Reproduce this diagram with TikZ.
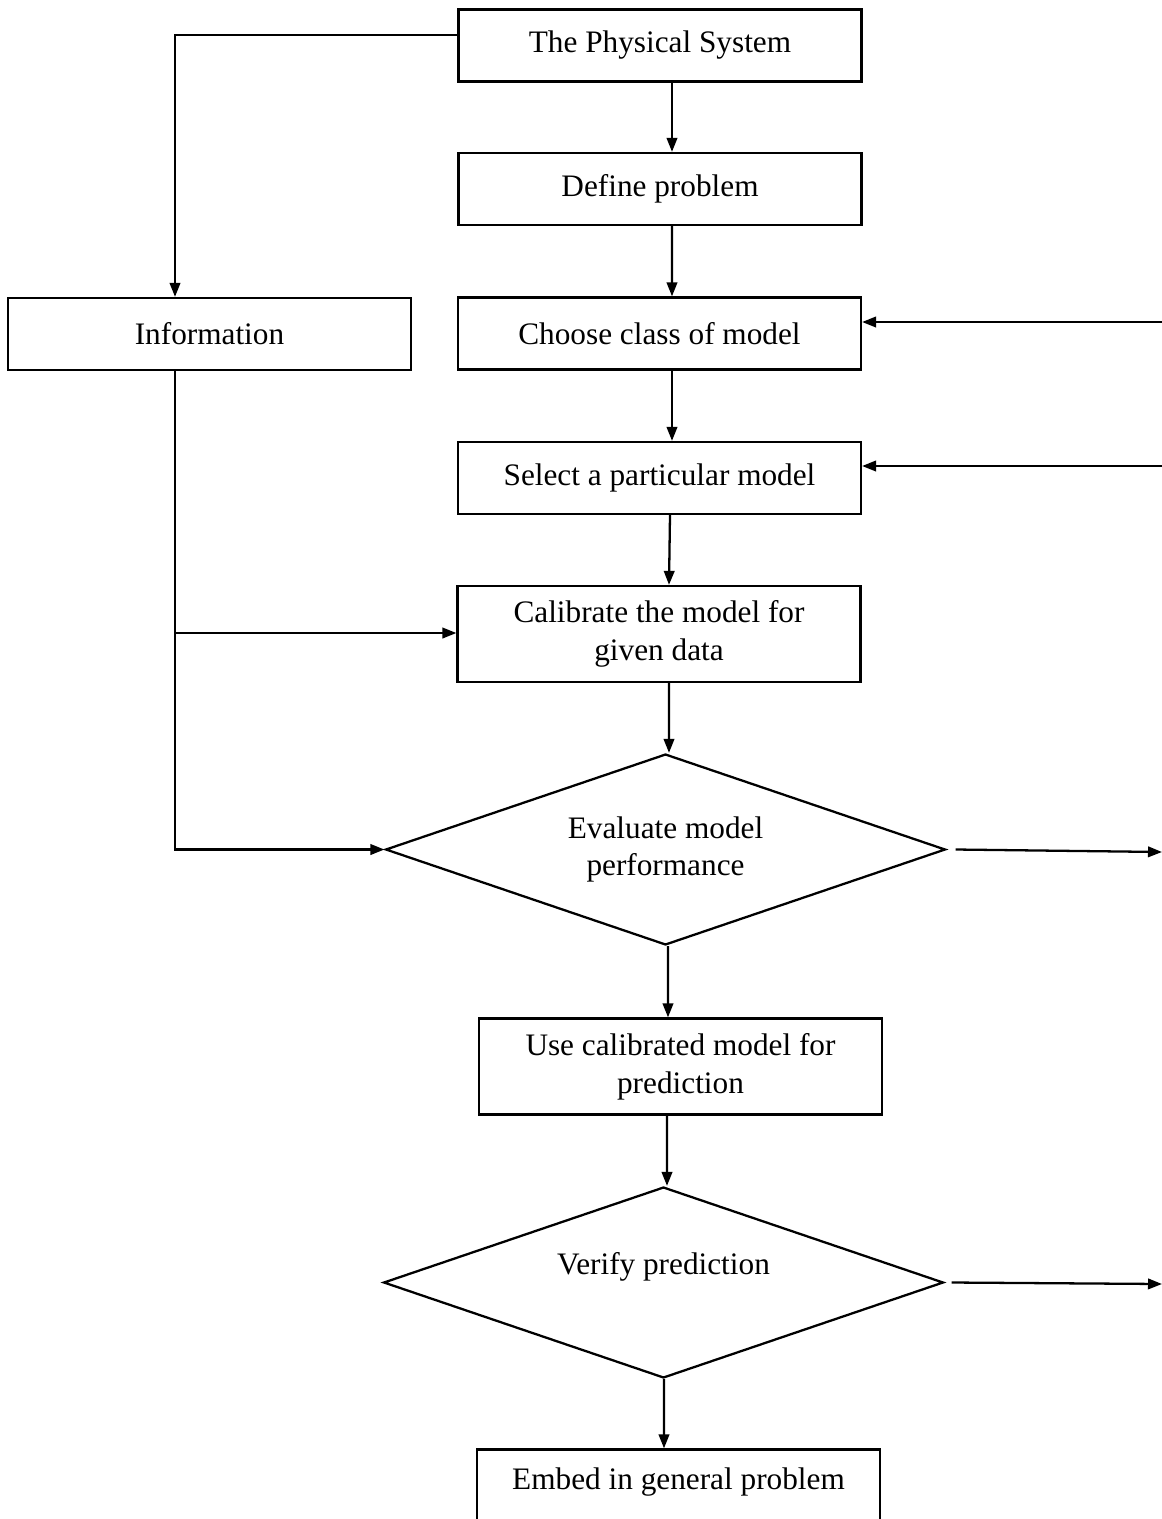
\documentclass[tikz,border=0pt]{standalone}
\usepackage{fontspec}
\setmainfont{Liberation Serif}
\usepackage{tikz}
\usetikzlibrary{arrows.meta,shapes.geometric}

\begin{document}
\begin{tikzpicture}[
    x=0.02cm, y=-0.02cm,
    box/.style={
        draw,
        line width=1.3pt,
        minimum width=8.06cm,
        minimum height=1.44cm,
        align=center,
        font=\fontsize{17.8}{21.5}\selectfont
    },
    tallbox/.style={
        box,
        minimum height=1.92cm
    },
    decision/.style={
        draw,
        shape=diamond,
        shape aspect=2.93,
        line width=1.3pt,
        minimum width=11.2cm,
        minimum height=3.82cm,
        inner sep=0pt,
        align=center,
        font=\fontsize{17.8}{21.5}\selectfont
    },
    every path/.style={
        line width=1.3pt
    },
    flow/.style={
        -{Triangle[length=0.28cm,width=0.21cm]}
    }
]
\useasboundingbox (0,0) rectangle (1162,1519);

\node[box] (phys) at (660,45.5) {The Physical System};
\node[box] (define) at (660,189) {Define problem};
\node[box] (info) at (209.5,334) {Information};
\node[box] (choose) at (659.5,333.5) {Choose class of model};
\node[box] (select) at (659.5,478) {Select a particular model};
\node[tallbox] (calib) at (659,634) {Calibrate the model for\\given data};
\node[decision] (eval) at (665.5,849.5) {Evaluate model\\performance};
\node[tallbox] (use) at (680.5,1066.5) {Use calibrated model for\\prediction};
\node[decision] (verify) at (663.5,1282.5) {Verify prediction\\\mbox{}};
\node[tallbox] (embed) at (678.5,1497.5) {Embed in general problem\\\mbox{}};

% loose ends on the right
\coordinate (back1) at (1162,322);
\coordinate (back2) at (1162,466);
\coordinate (out1) at (1162,852);
\coordinate (out2) at (1162,1284);
\coordinate (split) at (175,633);

% main column
\draw[flow] ([xshift=0.24cm]phys.south) -- ([xshift=0.24cm]define.north);
\draw[flow] ([xshift=0.24cm]define.south) -- ([xshift=0.25cm]choose.north);
\draw[flow] ([xshift=0.25cm]choose.south) -- ([xshift=0.25cm]select.north);
\draw[flow] ([xshift=0.21cm]select.south) -- ([xshift=0.2cm]calib.north);
\draw[flow] ([xshift=0.2cm]calib.south) -- ([xshift=0.07cm]eval.north);
\draw[flow] ([xshift=0.05cm]eval.south) -- ([xshift=-0.25cm]use.north);
\draw[flow] ([xshift=-0.27cm]use.south) -- ([xshift=0.07cm]verify.north);
\draw[flow] ([xshift=0.01cm]verify.south) -- ([xshift=-0.29cm]embed.north);

% information branch
\draw[flow] ([yshift=0.21cm]phys.west) -| ([xshift=-0.69cm]info.north);
\draw[flow] ([xshift=-0.69cm]info.south) |- (eval.west);
\draw[flow] (split) -- (split -| calib.west);

% feedback
\draw[flow] (back1) -- (back1 -| choose.east);
\draw[flow] (back2) -- (back2 -| select.east);
\draw[flow] ([xshift=0.18cm]eval.east) -- (out1);
\draw[flow] ([xshift=0.14cm]verify.east) -- (out2);

\end{tikzpicture}
\end{document}
